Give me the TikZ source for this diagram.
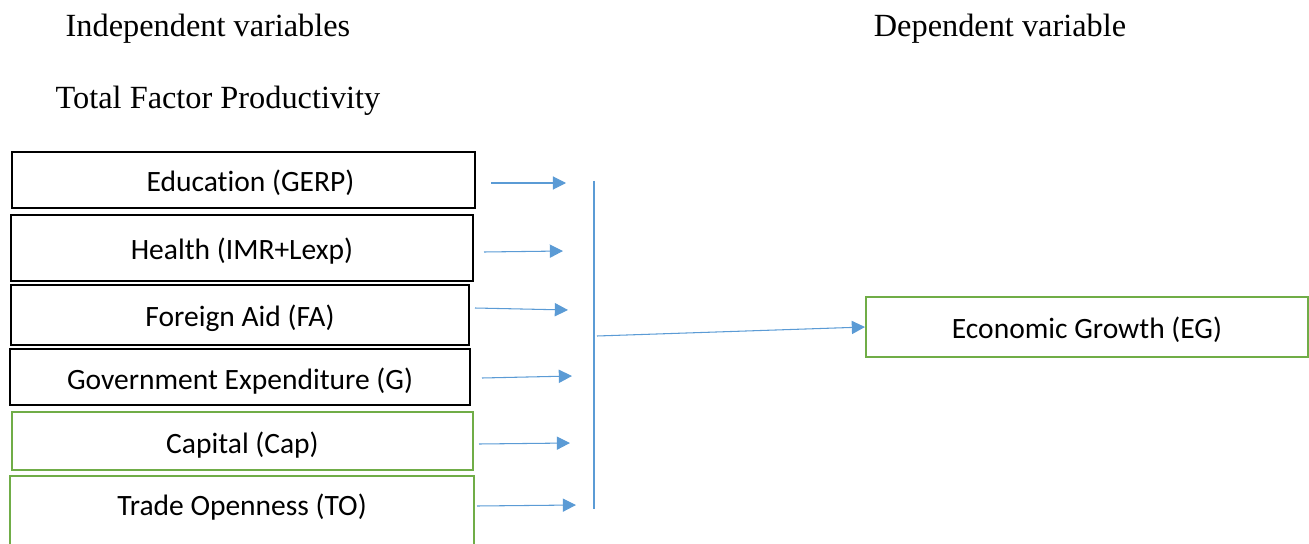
\documentclass[tikz,border=0pt]{standalone}
\usepackage{fontspec}
\setmainfont{Liberation Serif}
\newfontfamily\boxfont[Ligatures=NoCommon]{Carlito}
\usetikzlibrary{arrows.meta}
\definecolor{arrowblue}{RGB}{91,155,213}
\definecolor{boxgreen}{RGB}{112,173,71}

\tikzset{
  varbox/.style={draw=black, line width=0.7pt, inner sep=0pt,
    text height=0.55cm, text depth=0.07cm,
    font=\boxfont\fontsize{16.8}{20}\selectfont},
  greenbox/.style={varbox, draw=boxgreen, line width=1.2pt},
  flow/.style={draw=arrowblue, line width=0.6pt, -{Triangle[length=7.5pt,width=7.5pt]}},
  bar/.style={draw=arrowblue, line width=0.6pt},
  heading/.style={inner sep=0pt, font=\fontsize{18.4}{22}\selectfont}
}

\begin{document}
\begin{tikzpicture}[x=0.02cm, y=-0.02cm]
  \useasboundingbox (0,0) rectangle (1309,544);

  % headings
  \node[heading] (indep) at (208,29) {Independent variables};
  \node[heading] (dep) at (1000,29) {Dependent variable};
  \node[heading] (tfp) at (218,101) {Total Factor Productivity};

  % variable boxes
  \node[varbox, minimum width=9.26cm, minimum height=1.12cm] (edu) at (243.5,180) {\hspace*{0.28cm}Education (GERP)};
  \node[varbox, minimum width=9.24cm, minimum height=1.32cm] (health) at (242,248) {Health (IMR+Lexp)};
  \node[varbox, minimum width=9.16cm, minimum height=1.2cm] (aid) at (240,315) {Foreign Aid (FA)};
  \node[varbox, minimum width=9.2cm, minimum height=1.12cm] (gov) at (240,377) {Government Expenditure (G)};
  \node[greenbox, minimum width=9.22cm, minimum height=1.16cm] (cap) at (242.5,441) {Capital (Cap)};
  \node[greenbox, minimum width=9.28cm, text height=0.78cm, text depth=0.9cm, anchor=base] (trade) at (242,515) {Trade Openness (TO)};

  \node[greenbox, minimum width=8.84cm, minimum height=1.2cm] (eg) at (1087,327) {Economic Growth (EG)};

  % arrow ends
  \coordinate (edu-a) at (491,183);   \coordinate (edu-b) at (566,183);
  \coordinate (health-a) at (484,252);\coordinate (health-b) at (563,251);
  \coordinate (aid-a) at (475,308);   \coordinate (aid-b) at (568,310);
  \coordinate (gov-a) at (482,378);   \coordinate (gov-b) at (572,376);
  \coordinate (cap-a) at (479,444);   \coordinate (cap-b) at (570,443);
  \coordinate (trade-a) at (477,506); \coordinate (trade-b) at (576,505);
  \coordinate (bar-top) at (594,181); \coordinate (bar-bot) at (594,509);
  \coordinate (join) at (597,336);

  \draw[flow] (edu-a) -- (edu-b);
  \draw[flow] (health-a) -- (health-b);
  \draw[flow] (aid-a) -- (aid-b);
  \draw[flow] (gov-a) -- (gov-b);
  \draw[flow] (cap-a) -- (cap-b);
  \draw[flow] (trade-a) -- (trade-b);
  \draw[bar] (bar-top) -- (bar-bot);
  \draw[flow] (join) -- (eg.west);
\end{tikzpicture}
\end{document}
